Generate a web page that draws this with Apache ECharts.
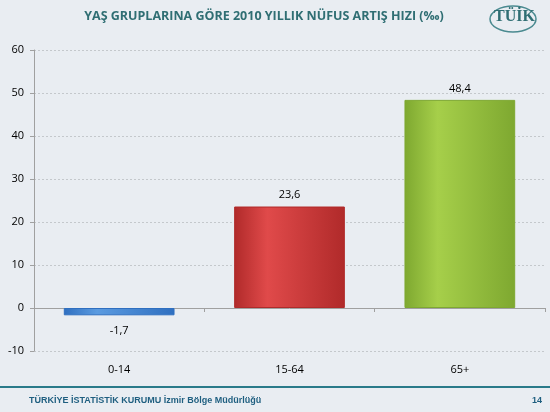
<!DOCTYPE html>
<html><head><meta charset="utf-8">
<script src="https://cdn.jsdelivr.net/npm/echarts@6/dist/echarts.min.js"></script>
<style>html,body{margin:0;padding:0;background:#e9edf2;}#c{width:550px;height:412px;}</style>
</head><body><div id="c"></div>
<script>
const categories = ['0-14', '15-64', '65+'];
const values = [-1.7, 23.6, 48.4];
const labels = ['-1,7', '23,6', '48,4'];
const colors = [['#5b9be0','#2f6fc0'], ['#e04a4a','#b02a2a'], ['#a6cf4a','#7ea830']];
const chart = echarts.init(document.getElementById('c'));
chart.setOption({
  backgroundColor: '#e9edf2',
  graphic: [
    {type:'text', x:264, y:10, style:{text:'YAŞ GRUPLARINA GÖRE 2010 YILLIK NÜFUS ARTIŞ HIZI (‰)', align:'center', font:'bold 12.5px "Open Sans", sans-serif', fill:'#2f6e73'}},
    {type:'ellipse', shape:{cx:513, cy:19, rx:23, ry:13}, style:{fill:'#e9edf2', stroke:'#4a8a90', lineWidth:1.5}},
    {type:'text', left:494, top:9, style:{text:'TÜİK', font:'bold 16px "Liberation Serif", serif', fill:'#2f6e73'}},
    {type:'line', shape:{x1:0, y1:387, x2:550, y2:387}, style:{stroke:'#2a7a8a', lineWidth:2}},
    {type:'text', left:29, top:396, style:{text:'TÜRKİYE İSTATİSTİK KURUMU İzmir Bölge Müdürlüğü', font:'bold 9px "Liberation Sans", sans-serif', fill:'#1f5f80'}},
    {type:'text', left:532, top:396, style:{text:'14', font:'bold 9px "Liberation Sans", sans-serif', fill:'#1f5f80'}}
  ],
  grid: {left:34, right:5, top:50, bottom:61},
  xAxis: [
    {type:'category', data:categories, axisLine:{onZero:true, lineStyle:{color:'#a0a0a0'}}, axisTick:{show:true, length:4}, axisLabel:{show:false}},
    {type:'category', data:categories, position:'bottom', offset:0, axisLine:{show:false}, axisTick:{show:false}, axisLabel:{color:'#000', fontSize:11, fontFamily:'"Open Sans", sans-serif', margin:13}}
  ],
  yAxis: {type:'value', min:-10, max:60, interval:10, axisLine:{show:true, lineStyle:{color:'#a0a0a0'}}, axisTick:{show:true, length:4}, axisLabel:{color:'#000', fontSize:11, fontFamily:'"Open Sans", sans-serif', margin:10}, splitLine:{lineStyle:{type:[2,2], color:'#c4c8cc'}}},
  series: [{
    type:'bar', barWidth:'65%', xAxisIndex:0,
    data: values.map((v,i)=>({value:v, itemStyle:{color:new echarts.graphic.LinearGradient(0,0,1,0,[{offset:0,color:colors[i][1]},{offset:0.3,color:colors[i][0]},{offset:1,color:colors[i][1]}]), borderColor:colors[i][1], borderWidth:1},
      label:{show:true, position: v<0?'bottom':'top', distance:v<0?10:6, formatter:labels[i], color:'#000', fontSize:11, fontFamily:'"Open Sans", sans-serif'}}))
  }]
});
</script></body></html>
